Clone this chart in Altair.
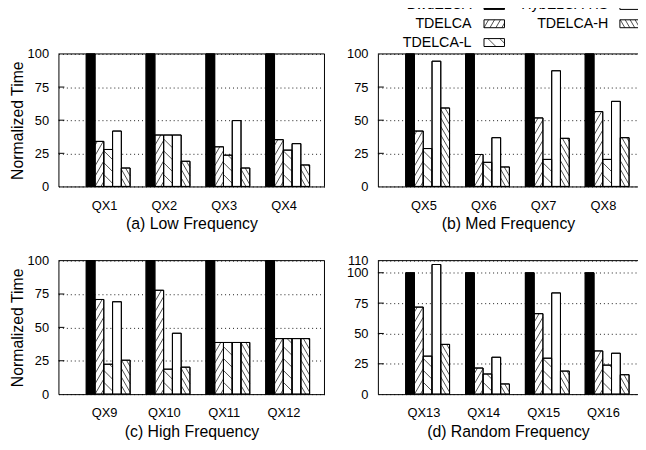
import math
import altair as alt
import pandas as pd

# ---------------- data ----------------
series = ["BwdELCA", "TDELCA", "TDELCA-L", "HybELCA-HS", "TDELCA-H"]
panel_titles = ["(a) Low Frequency", "(b) Med Frequency",
                "(c) High Frequency", "(d) Random Frequency"]
queries = [["QX1", "QX2", "QX3", "QX4"],
           ["QX5", "QX6", "QX7", "QX8"],
           ["QX9", "QX10", "QX11", "QX12"],
           ["QX13", "QX14", "QX15", "QX16"]]

bwdelca = [[100, 100, 100, 100], [100, 100, 100, 100],
           [100, 100, 100, 100], [100, 100, 100, 100]]
tdelca = [[34.0, 38.8, 29.9, 35.3], [41.8, 24.1, 51.7, 56.5],
          [70.9, 77.8, 38.7, 41.6], [71.7, 21.5, 66.3, 35.6]]
tdelca_l = [[27.9, 38.8, 23.6, 27.4], [28.6, 18.2, 20.4, 20.4],
            [22.4, 18.7, 38.7, 41.6], [31.3, 16.6, 29.6, 23.9]]
hybelca_hs = [[41.8, 38.8, 49.7, 32.3], [94.5, 36.8, 87.3, 64.2],
              [69.2, 45.6, 38.7, 41.6], [106.8, 30.4, 83.4, 33.7]]
tdelca_h = [[13.9, 19.0, 13.9, 16.2], [59.2, 14.7, 36.3, 36.8],
            [25.4, 20.2, 38.7, 41.6], [41.0, 8.4, 19.0, 16.0]]

y_max = [100, 100, 100, 110]
y_ticks = [[0, 25, 50, 75, 100], [0, 25, 50, 75, 100],
           [0, 25, 50, 75, 100], [0, 25, 50, 75, 100, 110]]

values = {"BwdELCA": bwdelca, "TDELCA": tdelca, "TDELCA-L": tdelca_l,
          "HybELCA-HS": hybelca_hs, "TDELCA-H": tdelca_h}

# ---------------- styling / layout ----------------
FONT = "Liberation Sans"
PANEL_W = [269, 263, 269, 263]
PANEL_H = [134, 134, 135, 135]
GROUP_PX = 60.5      # pixel distance between query groups
BAR_PX = 8.87        # pixel width of one bar
FIRST_PX = 50.3      # plot-left to first group centre
LABEL_SHIFT = 0.07   # tick label offset (group units)
FILL = {"BwdELCA": "black", "TDELCA": "white", "TDELCA-L": "white",
        "HybELCA-HS": "white", "TDELCA-H": "white"}
# direction, angle (deg), horizontal spacing (px)
HATCH = {"TDELCA": ("/", 60.0, 6.0),
         "TDELCA-L": ("\\", 45.0, 12.0),
         "TDELCA-H": ("\\", 60.0, 5.0)}


def hatch_segments(W, H, kind):
    """Hatch line segments inside a W x H box (pixels, y pointing up)."""
    if H <= 0:
        return []
    direction, angle, hsp = HATCH[kind]
    slope = math.tan(math.radians(angle))
    span = H / slope
    out = []
    kmin = math.floor(-span / hsp) - 2
    kmax = math.ceil((W + span) / hsp) + 2
    for k in range(kmin, kmax + 1):
        xk = k * hsp
        if direction == "/":
            lo, hi = max(0.0, xk), min(W, xk + span)
            if hi - lo > 1e-6:
                out.append((lo, slope * (lo - xk), hi, slope * (hi - xk)))
        else:
            lo, hi = max(0.0, xk - span), min(W, xk)
            if hi - lo > 1e-6:
                out.append((lo, -slope * (lo - xk), hi, -slope * (hi - xk)))
    return out


def legend_layer():
    col_text_x = [94.7, 233.0]
    col_sw_x = [107.3, 244.7]
    sw_w, sw_h = 20.7, 8.0
    row_y = [-49.0, -30.5, -11.5]
    order = [(0, 0), (0, 1), (0, 2), (1, 0), (1, 1)]  # column-major
    texts, rects, segs = [], [], []
    for s, (c, r) in zip(series, order):
        cy = row_y[r]
        texts.append(dict(label=s, x=col_text_x[c], y=cy))
        x0 = col_sw_x[c]
        y0 = cy - sw_h / 2
        rects.append(dict(x=x0, x2=x0 + sw_w, y=y0, y2=y0 + sw_h, fill=FILL[s]))
        if s in HATCH:
            for xa, ya, xb, yb in hatch_segments(sw_w, sw_h, s):
                segs.append(dict(xa=x0 + xa, xb=x0 + xb,
                                 ya=y0 + sw_h - ya, yb=y0 + sw_h - yb))
    t = alt.Chart(pd.DataFrame(texts)).mark_text(
        align="right", baseline="middle", font=FONT, fontSize=14.4, color="black"
    ).encode(x=alt.X("x:Q", scale=None, axis=None),
             y=alt.Y("y:Q", scale=None, axis=None), text="label:N")
    rc = alt.Chart(pd.DataFrame(rects)).mark_rect(stroke="black", strokeWidth=1).encode(
        x=alt.X("x:Q", scale=None, axis=None), x2="x2:Q",
        y=alt.Y("y:Q", scale=None, axis=None), y2="y2:Q",
        fill=alt.Fill("fill:N", scale=None))
    hs = alt.Chart(pd.DataFrame(segs)).mark_rule(color="black", strokeWidth=0.7).encode(
        x=alt.X("xa:Q", scale=None, axis=None), x2="xb:Q",
        y=alt.Y("ya:Q", scale=None, axis=None), y2="yb:Q")
    return alt.layer(rc, hs, t)


def panel(p):
    W, H, ymax = PANEL_W[p], PANEL_H[p], y_max[p]
    bw = BAR_PX / GROUP_PX
    xdom = [-FIRST_PX / GROUP_PX, (W - FIRST_PX) / GROUP_PX]
    xs = alt.Scale(domain=xdom, nice=False, zero=False)
    ys = alt.Scale(domain=[0, ymax], nice=False, zero=False)

    names = "[" + ",".join("'%s'" % q for q in queries[p]) + "]"
    xaxis = alt.Axis(
        values=[i - LABEL_SHIFT for i in range(len(queries[p]))],
        labelExpr="%s[round(datum.value + %s)]" % (names, LABEL_SHIFT),
        grid=False, ticks=False, tickSize=0, labelPadding=13,
        labelFont=FONT, labelFontSize=13, labelColor="black",
        domainColor="black", domainWidth=1,
        title=panel_titles[p], titleFont=FONT, titleFontSize=16,
        titleFontWeight="normal", titleColor="black",
        titleY=38, titleBaseline="middle", labelFlush=False, labelOverlap=False)
    ytitle = "Normalized Time" if p % 2 == 0 else ""
    yaxis_kw = dict(
        values=y_ticks[p], grid=True, gridColor="black", gridDash=[1, 3],
        gridWidth=1, gridOpacity=0.9, ticks=False, tickSize=0, labelPadding=10,
        labelFont=FONT, labelFontSize=13, labelColor="black",
        domainColor="black", domainWidth=1, labelFlush=False, labelOverlap=False)
    if ytitle:
        yaxis = alt.Axis(title=ytitle, titleFont=FONT, titleFontSize=16,
                         titleFontWeight="normal", titleColor="black",
                         titleX=-41, titleY=H / 2, titleAngle=270,
                         titleBaseline="middle", titleAlign="center", **yaxis_kw)
    else:
        yaxis = alt.Axis(title=None, **yaxis_kw)

    rows, segs = [], []
    for i, q in enumerate(queries[p]):
        for j, s in enumerate(series):
            v = values[s][p][i]
            x0 = i + (j - 2.5) * bw
            rows.append(dict(query=q, series=s, x0=x0, x1=x0 + bw, v=v, fill=FILL[s]))
            if s in HATCH:
                hpx = min(v, ymax) * H / ymax
                for xa, ya, xb, yb in hatch_segments(BAR_PX, hpx, s):
                    segs.append(dict(xa=x0 + xa / GROUP_PX, xb=x0 + xb / GROUP_PX,
                                     ya=ya * ymax / H, yb=yb * ymax / H))
    bars_df = pd.DataFrame(rows)
    seg_df = pd.DataFrame(segs)

    bars = alt.Chart(bars_df).mark_rect(stroke="black", strokeWidth=1).encode(
        x=alt.X("x0:Q", scale=xs, axis=xaxis), x2="x1:Q",
        y=alt.Y("v:Q", scale=ys, axis=yaxis), y2=alt.datum(0),
        fill=alt.Fill("fill:N", scale=None))
    hatch = alt.Chart(seg_df).mark_rule(color="black", strokeWidth=0.7).encode(
        x=alt.X("xa:Q", scale=xs, axis=xaxis), x2="xb:Q",
        y=alt.Y("ya:Q", scale=ys, axis=yaxis), y2="yb:Q")
    outline = alt.Chart(bars_df).mark_rect(
        fillOpacity=0, stroke="black", strokeWidth=1).encode(
        x=alt.X("x0:Q", scale=xs, axis=xaxis), x2="x1:Q",
        y=alt.Y("v:Q", scale=ys, axis=yaxis), y2=alt.datum(0))
    tick_df = pd.DataFrame({"t": [t for t in y_ticks[p] if 0 < t < ymax]})
    inner_ticks = alt.Chart(tick_df).mark_rule(color="black", strokeWidth=1).encode(
        y=alt.Y("t:Q", scale=ys, axis=yaxis), x=alt.value(0), x2=alt.value(6))
    one = pd.DataFrame({"a": [0]})
    top = alt.Chart(one).mark_rule(color="black", strokeWidth=1).encode(
        y=alt.value(0), x=alt.value(0), x2=alt.value(W))
    layers = [bars, hatch, outline, inner_ticks, top]
    if p % 2 == 0:
        right = alt.Chart(one).mark_rule(color="black", strokeWidth=1).encode(
            x=alt.value(W), y=alt.value(0), y2=alt.value(H))
        layers.append(right)
    base = alt.layer(*layers)
    if p == 1:
        base = alt.layer(base, legend_layer()).resolve_scale(x="independent", y="independent")
    return base.properties(width=W, height=H)


chart = alt.concat(
    *[panel(p) for p in range(4)], columns=2,
    spacing=alt.RowColnumber(row=75, column=54), bounds="flush"
).properties(
    padding={"left": 2, "top": -13, "right": -3, "bottom": 4}
).configure_view(stroke=None)

chart.save("out.html", embed_options={"renderer": "svg", "actions": False})
